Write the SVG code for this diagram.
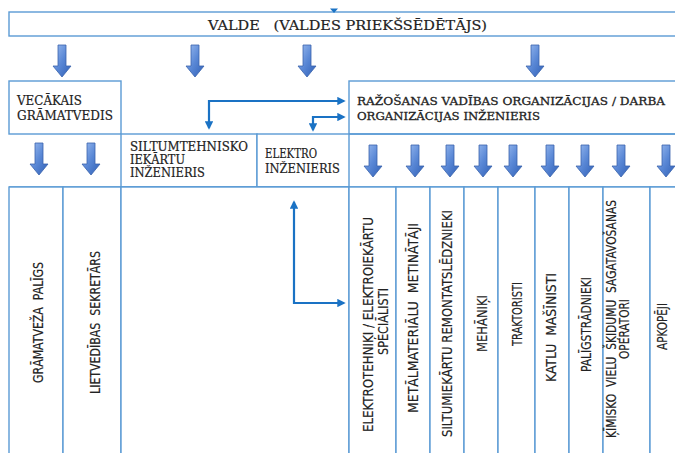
<svg xmlns="http://www.w3.org/2000/svg" width="675" height="453" viewBox="0 0 675 453">
<style>
.box{fill:#fff;stroke:#5b9bd5;stroke-width:1.4}
.ln{fill:none;stroke:#5b9bd5;stroke-width:1.4}
.st{font-family:"DejaVu Serif","Liberation Serif",serif;font-size:12.8px;fill:#222;stroke:#222;stroke-width:0.2;white-space:pre}
.sm{font-size:12px}
.rz{font-size:11.4px;stroke-width:0.3}
.rt{font-family:"Liberation Sans Narrow","DejaVu Sans Condensed","Liberation Sans",sans-serif;font-size:14.5px;fill:#222;stroke:#222;stroke-width:0.15;text-anchor:middle;white-space:pre}
.con{fill:none;stroke:#1a72c4;stroke-width:2.2}
</style>
<defs>
<linearGradient id="g" x1="0" y1="0" x2="1" y2="1">
<stop offset="0" stop-color="#9dbdf0"/>
<stop offset="0.5" stop-color="#5a88d6"/>
<stop offset="1" stop-color="#2f5fb5"/>
</linearGradient>
<path id="ba" d="M-4,0 H4 V21 H9 L0,32 L-9,21 H-4 Z" fill="url(#g)" stroke="#3a63ac" stroke-width="0.8"/>
<marker id="ah" viewBox="0 0 10 10" refX="8" refY="5" markerWidth="3.8" markerHeight="3.8" orient="auto-start-reverse">
<path d="M0,0 L10,5 L0,10 Z" fill="#1a72c4"/>
</marker>
</defs>
<rect width="675" height="453" fill="#fff"/>

<g id="valde">
<rect class="box" x="9" y="12" width="667" height="24"/>
<text class="st" xml:space="preserve" x="208" y="29.5" textLength="279" lengthAdjust="spacingAndGlyphs">VALDE   (VALDES PRIEKŠSĒDĒTĀJS)</text>
</g>

<g id="vecakais">
<rect class="box" x="9" y="81" width="112" height="53"/>
<text class="st" x="17" y="105" textLength="65" lengthAdjust="spacingAndGlyphs">VECĀKAIS</text>
<text class="st" x="17" y="120" textLength="96" lengthAdjust="spacingAndGlyphs">GRĀMATVEDIS</text>
</g>

<g id="razosanas">
<rect class="box" x="349" y="81" width="327" height="53"/>
<text class="st rz" x="357" y="104.5" textLength="308" lengthAdjust="spacingAndGlyphs">RAŽOŠANAS VADĪBAS ORGANIZĀCIJAS / DARBA</text>
<text class="st rz" x="357" y="119.5" textLength="183" lengthAdjust="spacingAndGlyphs">ORGANIZĀCIJAS INŽENIERIS</text>
</g>

<g id="siltumtehnisko">
<rect class="box" x="121" y="134" width="136" height="53"/>
<text class="st sm" x="130" y="151" textLength="118" lengthAdjust="spacingAndGlyphs">SILTUMTEHNISKO</text>
<text class="st sm" x="130" y="164" textLength="55" lengthAdjust="spacingAndGlyphs">IEKĀRTU</text>
<text class="st sm" x="130" y="177" textLength="75" lengthAdjust="spacingAndGlyphs">INŽENIERIS</text>
</g>

<g id="elektro">
<rect class="box" x="257" y="134" width="92" height="53"/>
<text class="st" x="265" y="158" textLength="52" lengthAdjust="spacingAndGlyphs">ELEKTRO</text>
<text class="st" x="265" y="172.5" textLength="75" lengthAdjust="spacingAndGlyphs">INŽENIERIS</text>
</g>

<g id="rowline">
<path class="ln" d="M349,134 H676 M9,187 H676"/>
</g>

<g id="gramateva">
<rect class="box" x="9" y="187" width="54" height="270"/>
<text class="rt" xml:space="preserve" transform="translate(42.5,322.5) rotate(-90)" textLength="121" lengthAdjust="spacingAndGlyphs">GRĀMATVEŽA  PALĪGS</text>
</g>
<g id="lietvedibas">
<rect class="box" x="63" y="187" width="58" height="270"/>
<text class="rt" xml:space="preserve" transform="translate(100,322.5) rotate(-90)" textLength="143" lengthAdjust="spacingAndGlyphs">LIETVEDĪBAS  SEKRETĀRS</text>
</g>
<g id="tuksa">
<rect class="box" x="121" y="187" width="228" height="270"/>
</g>
<g id="elektrotehniki">
<rect class="box" x="349" y="187" width="47" height="270"/>
<text class="rt" transform="translate(373,324.5) rotate(-90)" textLength="215" lengthAdjust="spacingAndGlyphs">ELEKTROTEHNIĶI / ELEKTROIEKĀRTU</text>
<text class="rt" transform="translate(387.5,321.5) rotate(-90)" textLength="67" lengthAdjust="spacingAndGlyphs">SPECIĀLISTI</text>
</g>
<g id="metinataji">
<rect class="box" x="396" y="187" width="34" height="270"/>
<text class="rt" xml:space="preserve" transform="translate(417.5,318) rotate(-90)" textLength="190" lengthAdjust="spacingAndGlyphs">METĀLMATERIĀLU  METINĀTĀJI</text>
</g>
<g id="atslednieki">
<rect class="box" x="430" y="187" width="34" height="270"/>
<text class="rt" transform="translate(452,323.5) rotate(-90)" textLength="227" lengthAdjust="spacingAndGlyphs">SILTUMIEKĀRTU REMONTATSLĒDZNIEKI</text>
</g>
<g id="mehaniki">
<rect class="box" x="464" y="187" width="34" height="270"/>
<text class="rt" transform="translate(487,323.5) rotate(-90)" textLength="57" lengthAdjust="spacingAndGlyphs">MEHĀNIĶI</text>
</g>
<g id="traktoristi">
<rect class="box" x="498" y="187" width="37" height="270"/>
<text class="rt" transform="translate(521.5,314) rotate(-90)" textLength="64" lengthAdjust="spacingAndGlyphs">TRAKTORISTI</text>
</g>
<g id="masinisti">
<rect class="box" x="535" y="187" width="34" height="270"/>
<text class="rt" xml:space="preserve" transform="translate(555.5,327.5) rotate(-90)" textLength="109" lengthAdjust="spacingAndGlyphs">KATLU  MAŠĪNISTI</text>
</g>
<g id="palgstradnieki">
<rect class="box" x="569" y="187" width="34" height="270"/>
<text class="rt" transform="translate(591,324.5) rotate(-90)" textLength="95" lengthAdjust="spacingAndGlyphs">PALĪGSTRĀDNIEKI</text>
</g>
<g id="operatori">
<rect class="box" x="603" y="187" width="47" height="270"/>
<text class="rt" xml:space="preserve" transform="translate(616,319) rotate(-90)" textLength="238" lengthAdjust="spacingAndGlyphs">ĶĪMISKO  VIELU  ŠĶIDUMU  SAGATAVOŠANAS</text>
<text class="rt" transform="translate(628.5,329) rotate(-90)" textLength="60" lengthAdjust="spacingAndGlyphs">OPERATORI</text>
</g>
<g id="apkopeji">
<rect class="box" x="650" y="187" width="26" height="270"/>
<text class="rt" transform="translate(667,326.5) rotate(-90)" textLength="47" lengthAdjust="spacingAndGlyphs">APKOPĒJI</text>
</g>

<g id="connectors">
<polygon points="330,8.5 338,8.5 334,13" fill="#1a72c4"/>
<use href="#ba" x="62" y="45"/>
<use href="#ba" x="195" y="45"/>
<use href="#ba" x="307" y="45"/>
<use href="#ba" x="535" y="45"/>
<use href="#ba" x="39" y="143"/>
<use href="#ba" x="91" y="143"/>
<use href="#ba" x="373" y="145"/>
<use href="#ba" x="415" y="145"/>
<use href="#ba" x="450" y="145"/>
<use href="#ba" x="483" y="145"/>
<use href="#ba" x="513" y="145"/>
<use href="#ba" x="550" y="145"/>
<use href="#ba" x="585" y="145"/>
<use href="#ba" x="621" y="145"/>
<use href="#ba" x="666" y="145"/>
<path class="con" d="M344,101 H209 V128" marker-start="url(#ah)" marker-end="url(#ah)"/>
<path class="con" d="M344,117 H313 V130" marker-start="url(#ah)" marker-end="url(#ah)"/>
<path class="con" d="M294,202 V303 H344" marker-start="url(#ah)" marker-end="url(#ah)"/>
</g>
</svg>
